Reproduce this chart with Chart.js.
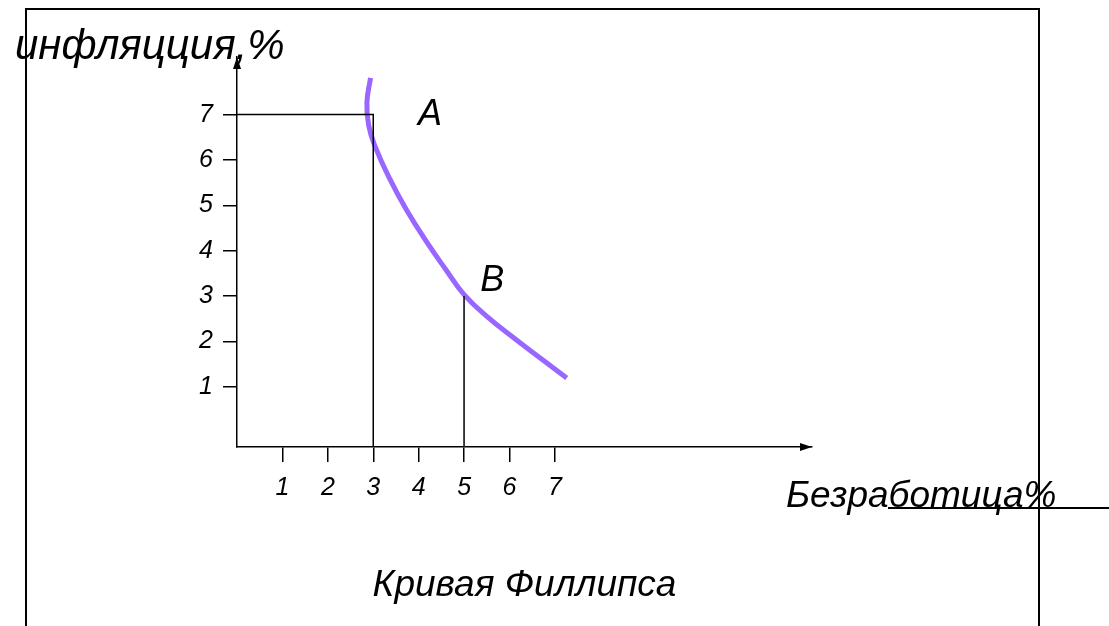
<!DOCTYPE html>
<html>
<head>
<meta charset="utf-8">
<script src="https://cdn.jsdelivr.net/npm/chart.js"></script>
<style>
  body { margin: 0; background: #fff; }
  #wrap { width: 1109px; height: 626px; }
</style>
</head>
<body>
<div id="wrap"><canvas id="myChart" width="1109" height="626"></canvas></div>
<script>
// ticks shown on the axes
const xTicks = [1, 2, 3, 4, 5, 6, 7];
const yTicks = [1, 2, 3, 4, 5, 6, 7];

// Phillips curve
const curveX = [2.94, 2.86, 2.9, 3.04, 3.37, 3.73, 4.19, 4.6, 5.0, 5.5, 6.14, 6.72, 7.26];
const curveY = [7.81, 7.26, 6.76, 6.3, 5.57, 4.9, 4.17, 3.58, 3.03, 2.55, 2.04, 1.6, 1.19];

// points A and B
const pointA = { x: 3, y: 7 };
const pointB = { x: 5, y: 3 };

const xMin = 0, xMax = 12.66;
const yMin = -0.33, yMax = 8.27;

const font = 'Liberation Sans, Arial, sans-serif';
const ctx = document.getElementById('myChart').getContext('2d');

// arrows, frame and texts
const decor = {
  id: 'decor',
  afterDatasetsDraw(chart) {
    const c = chart.ctx;
    const a = chart.chartArea;
    const xs = chart.scales.x, ys = chart.scales.y;
    c.save();
    c.fillStyle = '#000';
    // arrow heads
    c.beginPath();
    c.moveTo(a.left, a.top);
    c.lineTo(a.left - 4, a.top + 12);
    c.lineTo(a.left + 4, a.top + 12);
    c.closePath();
    c.fill();
    c.beginPath();
    c.moveTo(a.right, a.bottom);
    c.lineTo(a.right - 12, a.bottom - 4);
    c.lineTo(a.right - 12, a.bottom + 4);
    c.closePath();
    c.fill();

    // frame
    c.strokeStyle = '#000';
    c.lineWidth = 2;
    c.beginPath();
    c.moveTo(26, 626);
    c.lineTo(26, 9);
    c.lineTo(1039, 9);
    c.lineTo(1039, 626);
    c.stroke();
    c.beginPath();
    c.moveTo(888, 508);
    c.lineTo(1109, 508);
    c.stroke();

    // texts
    c.textBaseline = 'alphabetic';
    c.textAlign = 'left';
    c.font = 'italic 42px ' + font;
    c.fillText('инфляцция,%', 15, 59);
    c.font = 'italic 37px ' + font;
    c.fillText('Безработица%', 786, 507);
    c.textAlign = 'center';
    c.font = 'italic 37px ' + font;
    c.fillText('Кривая Филлипса', (a.left + a.right) / 2, 596);
    c.textBaseline = 'middle';
    c.font = 'italic 36px ' + font;
    c.fillText('A', xs.getPixelForValue(4.25), ys.getPixelForValue(7));
    c.fillText('B', xs.getPixelForValue(5.62), ys.getPixelForValue(3.34));
    c.restore();
  }
};

const tickFont = { family: font, size: 25, style: 'italic' };

const chart = new Chart(ctx, {
  type: 'line',
  data: {
    datasets: [
      {
        label: 'A',
        data: [{ x: xMin, y: pointA.y }, pointA, { x: pointA.x, y: yMin }],
        borderColor: '#000',
        borderWidth: 1.5,
        pointRadius: 0,
        tension: 0
      },
      {
        label: 'B',
        data: [pointB, { x: pointB.x, y: yMin }],
        borderColor: '#222',
        borderWidth: 1,
        pointRadius: 0,
        tension: 0
      },
      {
        label: 'Кривая Филлипса',
        data: curveX.map((x, i) => ({ x: x, y: curveY[i] })),
        borderColor: 'rgb(153, 102, 255)',
        borderWidth: 5,
        pointRadius: 0,
        tension: 0.45
      }
    ]
  },
  options: {
    responsive: false,
    animation: false,
    layout: { padding: { left: 197, top: 57, right: 297, bottom: 119 } },
    scales: {
      x: {
        type: 'linear',
        min: xMin,
        max: xMax,
        afterFit: s => { s.height = 60; },
        afterBuildTicks: s => { s.ticks = xTicks.map(v => ({ value: v })); },
        ticks: { color: '#000', font: tickFont, padding: 11 },
        grid: { drawOnChartArea: false, drawTicks: true, tickLength: 15, color: '#000', lineWidth: 1.5 },
        border: { display: true, color: '#000', width: 1.5 }
      },
      y: {
        type: 'linear',
        min: yMin,
        max: yMax,
        afterFit: s => { s.width = 40; },
        afterBuildTicks: s => { s.ticks = yTicks.map(v => ({ value: v })); },
        ticks: { color: '#000', font: tickFont, padding: 10 },
        grid: { drawOnChartArea: false, drawTicks: true, tickLength: 14, color: '#000', lineWidth: 1.5 },
        border: { display: true, color: '#000', width: 1.5 }
      }
    },
    plugins: {
      legend: { display: false },
      tooltip: { enabled: false }
    }
  },
  plugins: [decor]
});
</script>
</body>
</html>
